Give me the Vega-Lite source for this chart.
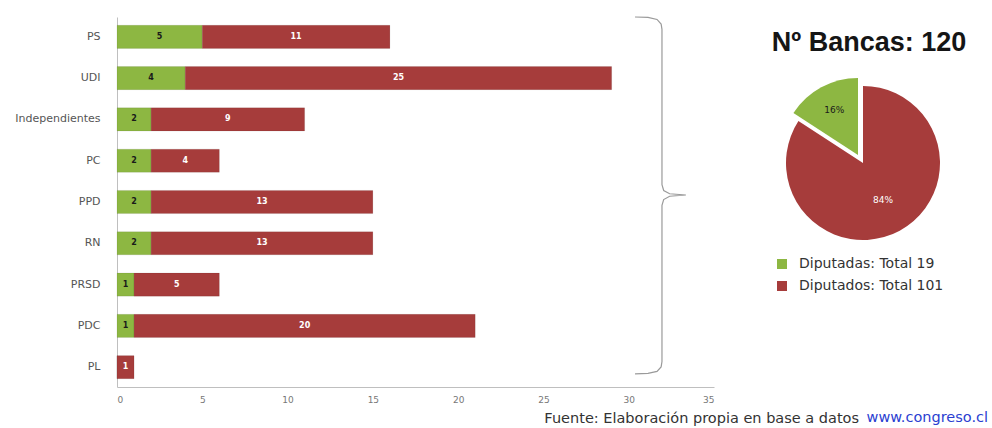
{
  "$schema": "https://vega.github.io/schema/vega-lite/v6.json",
  "background": "white",
  "padding": {"left": 14, "top": 14, "right": 4, "bottom": 2},
  "autosize": {"type": "pad"},
  "bounds": "flush",
  "spacing": 24,
  "config": {"view": {"stroke": null}, "axis": {"grid": false}, "font": "DejaVu Sans"},
  "title": {"text": "www.congreso.cl", "orient": "bottom", "anchor": "end", "offset": -15, "font": "DejaVu Sans", "fontSize": 14.5, "fontWeight": "normal", "color": "#2B3FD1"},
  "datasets": {
    "bars": [
      {"partido": "PS", "sexo": "Diputadas", "n": 5},
      {"partido": "PS", "sexo": "Diputados", "n": 11},
      {"partido": "UDI", "sexo": "Diputadas", "n": 4},
      {"partido": "UDI", "sexo": "Diputados", "n": 25},
      {"partido": "Independientes", "sexo": "Diputadas", "n": 2},
      {"partido": "Independientes", "sexo": "Diputados", "n": 9},
      {"partido": "PC", "sexo": "Diputadas", "n": 2},
      {"partido": "PC", "sexo": "Diputados", "n": 4},
      {"partido": "PPD", "sexo": "Diputadas", "n": 2},
      {"partido": "PPD", "sexo": "Diputados", "n": 13},
      {"partido": "RN", "sexo": "Diputadas", "n": 2},
      {"partido": "RN", "sexo": "Diputados", "n": 13},
      {"partido": "PRSD", "sexo": "Diputadas", "n": 1},
      {"partido": "PRSD", "sexo": "Diputados", "n": 5},
      {"partido": "PDC", "sexo": "Diputadas", "n": 1},
      {"partido": "PDC", "sexo": "Diputados", "n": 20},
      {"partido": "PL", "sexo": "Diputadas", "n": 0},
      {"partido": "PL", "sexo": "Diputados", "n": 1}
    ],
    "pie": [
      {"grupo": "Diputados: Total 101", "n": 101, "pct": "84%", "ord": 1},
      {"grupo": "Diputadas: Total 19", "n": 19, "pct": "16%", "ord": 2}
    ],
    "llave": [
      {"i": 0, "bx": 30.37, "by": 0.0},
      {"i": 1, "bx": 31.13, "by": 0.01},
      {"i": 2, "bx": 31.66, "by": 0.06},
      {"i": 3, "bx": 31.9, "by": 0.17},
      {"i": 4, "bx": 31.95, "by": 0.3},
      {"i": 5, "bx": 31.95, "by": 4.08},
      {"i": 6, "bx": 32.05, "by": 4.22},
      {"i": 7, "bx": 32.4, "by": 4.3},
      {"i": 8, "bx": 33.35, "by": 4.33},
      {"i": 9, "bx": 32.4, "by": 4.36},
      {"i": 10, "bx": 32.05, "by": 4.44},
      {"i": 11, "bx": 31.95, "by": 4.58},
      {"i": 12, "bx": 31.95, "by": 8.38},
      {"i": 13, "bx": 31.9, "by": 8.51},
      {"i": 14, "bx": 31.66, "by": 8.62},
      {"i": 15, "bx": 31.13, "by": 8.67},
      {"i": 16, "bx": 30.37, "by": 8.68}
    ]
  },
  "resolve": {"scale": {"color": "independent"}, "legend": {"color": "independent"}},
  "hconcat": [
    {
      "width": 597,
      "height": 370,
      "title": {"text": "Fuente: Elaboración propia en base a datos", "orient": "bottom", "anchor": "end", "frame": "group", "offset": 8, "dx": 145, "font": "DejaVu Sans", "fontSize": 14.5, "fontWeight": "normal", "color": "#333333"},
      "resolve": {"scale": {"y": "independent"}, "axis": {"y": "independent"}},
      "layer": [
        {
          "data": {"name": "bars"},
          "encoding": {
            "y": {"field": "partido", "type": "nominal", "sort": ["PS", "UDI", "Independientes", "PC", "PPD", "RN", "PRSD", "PDC", "PL"], "scale": {"paddingInner": 0.44, "paddingOuter": 0.2}, "axis": {"title": null, "ticks": false, "tickSize": 0, "labelPadding": 17, "labelFont": "DejaVu Sans", "labelFontSize": 11, "labelColor": "#555555", "domainColor": "#bfbfbf"}}
          },
          "layer": [
            {
              "transform": [
                {"stack": "n", "groupby": ["partido"], "sort": [{"field": "sexo", "order": "ascending"}], "as": ["s0", "s1"]}
              ],
              "mark": {"type": "bar", "stroke": "#00000022", "strokeWidth": 0.6},
              "encoding": {
                "x": {"field": "s0", "type": "quantitative", "scale": {"domain": [0, 35], "nice": false}, "axis": {"title": null, "values": [0, 5, 10, 15, 20, 25, 30, 35], "ticks": false, "tickSize": 0, "labelPadding": 8, "labelFont": "DejaVu Sans", "labelFontSize": 9, "labelColor": "#777777", "domainColor": "#bfbfbf"}},
                "x2": {"field": "s1"},
                "color": {"field": "sexo", "type": "nominal", "scale": {"domain": ["Diputadas", "Diputados"], "range": ["#8DB742", "#A63C3B"]}, "legend": null}
              }
            },
            {
              "transform": [
                {"filter": "datum.n > 0"},
                {"stack": "n", "groupby": ["partido"], "sort": [{"field": "sexo", "order": "ascending"}], "as": ["s0", "s1"]},
                {"fold": ["s0", "s1"], "as": ["k", "v"]},
                {"aggregate": [{"op": "mean", "field": "v", "as": "mid"}], "groupby": ["partido", "sexo", "n"]}
              ],
              "mark": {"type": "text", "font": "DejaVu Sans", "fontSize": 8, "fontWeight": "bold"},
              "encoding": {
                "x": {"field": "mid", "type": "quantitative", "scale": {"domain": [0, 35], "nice": false}},
                "text": {"field": "n", "type": "quantitative"},
                "color": {"condition": {"test": "datum.sexo === 'Diputadas'", "value": "#1a1a1a"}, "value": "#ffffff"}
              }
            }
          ]
        },
        {
          "data": {"name": "llave"},
          "mark": {"type": "line", "color": "#9a9a9a", "strokeWidth": 1.2},
          "encoding": {
            "x": {"field": "bx", "type": "quantitative", "scale": {"domain": [0, 35], "nice": false}},
            "y": {"field": "by", "type": "quantitative", "scale": {"domain": [0, 9], "reverse": true, "nice": false, "zero": false}, "axis": null},
            "order": {"field": "i", "type": "quantitative"}
          }
        }
      ]
    },
    {
      "width": 250,
      "height": 292,
      "title": {"text": "Nº Bancas: 120", "orient": "top", "anchor": "middle", "frame": "group", "offset": -61, "dx": 6, "baseline": "alphabetic", "font": "Liberation Sans", "fontSize": 27, "fontWeight": "bold", "color": "#151515"},
      "data": {"name": "pie"},
      "encoding": {
        "theta": {"field": "n", "type": "quantitative", "stack": true},
        "order": {"field": "ord", "type": "quantitative"},
        "color": {"field": "grupo", "type": "nominal", "scale": {"domain": ["Diputadas: Total 19", "Diputados: Total 101"], "range": ["#8DB742", "#A63C3B"]}, "legend": {"orient": "none", "legendX": 37, "legendY": 240, "title": null, "symbolType": "square", "symbolSize": 100, "symbolStrokeWidth": 0, "symbolOpacity": 1, "labelFont": "DejaVu Sans", "labelFontSize": 14, "labelColor": "#333333", "rowPadding": 8, "labelOffset": 10, "padding": 0}}
      },
      "layer": [
        {
          "mark": {"type": "arc", "outerRadius": 77},
          "encoding": {"fillOpacity": {"condition": {"test": "datum.ord === 2", "value": 0}, "value": 1}}
        },
        {
          "mark": {"type": "arc", "outerRadius": 77, "xOffset": -5, "yOffset": -8},
          "encoding": {"fillOpacity": {"condition": {"test": "datum.ord === 1", "value": 0}, "value": 1}}
        },
        {
          "mark": {"type": "text", "radius": 60, "font": "DejaVu Sans", "fontSize": 9},
          "encoding": {"text": {"field": "pct"}, "color": {"value": "#1a1a1a"}, "opacity": {"condition": {"test": "datum.ord === 1", "value": 0}, "value": 1}}
        },
        {
          "mark": {"type": "text", "radius": 42, "font": "DejaVu Sans", "fontSize": 9},
          "encoding": {"text": {"field": "pct"}, "color": {"value": "#ffffff"}, "opacity": {"condition": {"test": "datum.ord === 2", "value": 0}, "value": 1}}
        }
      ]
    }
  ]
}
